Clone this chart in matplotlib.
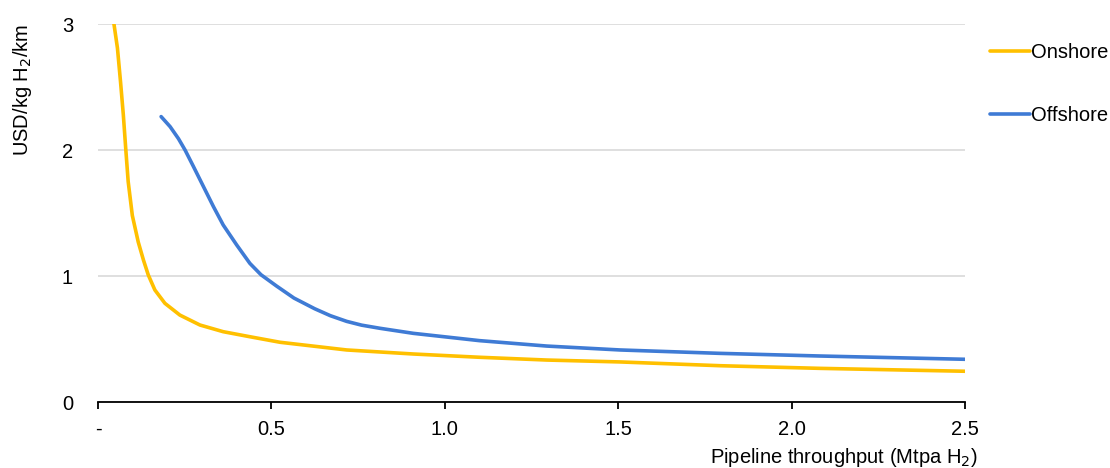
import matplotlib
matplotlib.use('Agg')
import matplotlib.pyplot as plt

plt.rcParams['font.family'] = ['Liberation Sans', 'DejaVu Sans']

# values
onshore_x = [0.046, 0.056, 0.065, 0.073, 0.080, 0.087, 0.099, 0.116, 0.131, 0.145,
             0.164, 0.193, 0.236, 0.294, 0.361, 0.438, 0.525, 0.717, 0.909, 1.100,
             1.294, 1.505, 1.794, 2.082, 2.500]
onshore_y = [3.00, 2.81, 2.54, 2.28, 2.01, 1.75, 1.48, 1.27, 1.127, 1.008,
             0.889, 0.783, 0.69, 0.611, 0.558, 0.518, 0.474, 0.413, 0.381, 0.355,
             0.333, 0.318, 0.288, 0.267, 0.244]

offshore_x = [0.182, 0.208, 0.232, 0.251, 0.275, 0.304, 0.333, 0.361, 0.400, 0.438,
              0.470, 0.515, 0.565, 0.625, 0.670, 0.717, 0.760, 0.813, 0.909, 1.100,
              1.294, 1.505, 1.794, 2.082, 2.500]
offshore_y = [2.265, 2.185, 2.09, 2.00, 1.87, 1.71, 1.55, 1.405, 1.246, 1.10,
              1.01, 0.92, 0.825, 0.74, 0.685, 0.64, 0.61, 0.585, 0.545, 0.487,
              0.444, 0.413, 0.386, 0.365, 0.339]

x_ticks = [0, 0.5, 1.0, 1.5, 2.0, 2.5]
x_labels = ['-', '0.5', '1.0', '1.5', '2.0', '2.5']
y_ticks = [0, 1, 2, 3]

fs = 14.5

fig = plt.figure(figsize=(11.1, 4.68), dpi=100)
ax = fig.add_axes([98 / 1110, 66 / 468, 867 / 1110, 378 / 468])

l1, = ax.plot(onshore_x, onshore_y, color='#FFC000', lw=2.6,
              solid_capstyle='round', solid_joinstyle='round')
l2, = ax.plot(offshore_x, offshore_y, color='#3F7BD5', lw=2.6,
              solid_capstyle='round', solid_joinstyle='round')

ax.set_xlim(0, 2.5)
ax.set_ylim(0, 3)
ax.set_xticks(x_ticks)
ax.set_xticklabels(x_labels)
ax.set_yticks(y_ticks)
ax.yaxis.grid(True, color='#D9D9D9', lw=1.2)
ax.set_axisbelow(True)

for s in ['left', 'right', 'top']:
    ax.spines[s].set_visible(False)
ax.spines['bottom'].set_linewidth(1.3)
ax.tick_params(axis='x', direction='out', length=5, width=1.3, pad=8, labelsize=fs)
ax.tick_params(axis='y', length=0, pad=18, labelsize=fs)

ax.set_ylabel('USD/kg H$_2$/km', fontsize=fs, labelpad=20, loc='top')
fig.text(978 / 1110, 5 / 468, 'Pipeline throughput (Mtpa H$_2$)', fontsize=fs,
         ha='right', va='baseline')

fig.legend([l1, l2], ['Onshore', 'Offshore'], loc='upper left',
           bbox_to_anchor=(980 / 1110, 1 - 33 / 468), frameon=False, fontsize=fs,
           handlelength=2.0, handletextpad=0.05, labelspacing=2.2, borderpad=0)

fig.savefig('out.png', dpi=100)
